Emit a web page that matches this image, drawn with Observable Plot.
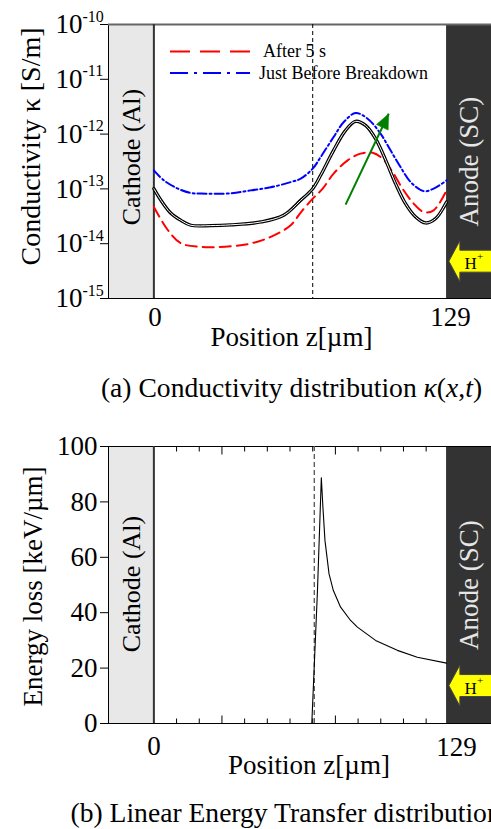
<!DOCTYPE html>
<html><head><meta charset="utf-8">
<script src="https://cdn.jsdelivr.net/npm/d3@7"></script>
<script src="https://cdn.jsdelivr.net/npm/@observablehq/plot@0.6"></script>
<style>
html,body{margin:0;padding:0;background:#fff}
#wrap{position:relative;width:491px;height:829px;overflow:hidden;font-family:"Liberation Serif","Times New Roman",serif}
#wrap svg{display:block}
#legend{position:absolute;left:0;top:0;pointer-events:none}
</style></head><body><div id="wrap"></div>
<script>
// ---------------- data: panel (a) conductivity ----------------
const zInitial = [0, 3.1, 7.5, 11.9, 16.3, 25.1, 33.9, 47.1, 57.2, 64.7, 70.0, 73.5, 79.2, 84.5, 88.9, 93.3, 97.7, 102.2, 106.5, 110.9, 115.4, 119.8, 124.2, 129];
const kInitial = [1.01e-13, 6.2e-14, 3.59e-14, 2.67e-14, 2.17e-14, 2.14e-14, 2.21e-14, 2.49e-14, 3.30e-14, 6.19e-14, 1.01e-13, 1.77e-13, 5.05e-13, 1.17e-12, 1.71e-12, 1.44e-12, 8.24e-13, 3.32e-13, 1.25e-13, 5.39e-14, 3.07e-14, 2.39e-14, 2.87e-14, 5.77e-14];
const zAfter5s = [0, 6.2, 11.9, 20.7, 33.9, 42.7, 51.5, 60.3, 64.7, 70.0, 74.4, 79.2, 85.4, 91.1, 96.4, 100.8, 105.2, 109.6, 114.5, 118.9, 123.3, 129];
const kAfter5s = [4.68e-14, 1.76e-14, 1.02e-14, 8.73e-15, 8.98e-15, 1.01e-14, 1.33e-14, 2.17e-14, 3.7e-14, 6.65e-14, 1.01e-13, 1.90e-13, 3.32e-13, 4.40e-13, 4.58e-13, 3.56e-13, 2.03e-13, 1.01e-13, 5.39e-14, 3.79e-14, 4.07e-14, 9.4e-14];
const zBefore = [0, 4.4, 10.6, 16.3, 20.7, 33.9, 42.7, 51.5, 60.3, 64.7, 70.0, 73.5, 79.2, 83.7, 88.9, 94.2, 99.9, 104.3, 108.7, 113.2, 118.9, 123.3, 129];
const kBefore = [2.18e-13, 1.43e-13, 1.01e-13, 8.4e-14, 8.2e-14, 8.3e-14, 9.4e-14, 1.07e-13, 1.33e-13, 1.54e-13, 2.34e-13, 3.81e-13, 8.83e-13, 1.66e-12, 2.42e-12, 1.91e-12, 1.02e-12, 5.05e-13, 2.51e-13, 1.33e-13, 9.1e-14, 1.01e-13, 1.43e-13];
const yTicksTop = [1e-15, 1e-14, 1e-13, 1e-12, 1e-11, 1e-10];
const yExpTop = ["-15", "-14", "-13", "-12", "-11", "-10"];
const trendFrom = [84.5, 5.16e-14];
const trendTo = [103.5, 2.35e-12];
const trackTop = [70];
const hPlusTop = [129, 4.8e-15];
const seriesNames = ["After 5 s", "Just Before Breakdown"];

// ---------------- shared ----------------
const xTicks = [0, 129];
const regionNames = ["Cathode (Al)", "Anode (SC)"];
const regionStart = [-20, 129];
const regionEnd = [0, 148.8];

// ---------------- data: panel (b) LET ----------------
const zLET = [0, 69.6, 72.1, 73.8, 74.5, 75.4, 77.2, 79.1, 82.3, 86.7, 89.7, 97.7, 107.3, 116.1, 129];
const vLET = [0, 0, 48.0, 88.7, 78.1, 66.1, 54.0, 48.0, 42.0, 37.2, 34.8, 30.0, 26.4, 23.9, 21.8];
const yTicksBottom = [0, 20, 40, 60, 80, 100];
const minorTicks = [10, 20, 40, 50, 60, 70, 90, 100, 110, 120];
const majorTicks = [30, 80];
const trackBottom = [70.7];
const hPlusBottom = [129, 13.7];

// ---------------- helpers ----------------
const FONT = '"Liberation Serif","Times New Roman",serif';
const rows = (zs, vs) => zs.map((z, i) => ({z, v: vs[i]}));
const regions = regionNames.map((name, i) => ({name, start: regionStart[i], end: regionEnd[i]}));
const xDomain = [regionStart[0], regionEnd[1]];
const curve = "catmull-rom";

const hArrowSym = {draw(ctx) {
  ctx.moveTo(0, 0); ctx.lineTo(11, -20.5); ctx.lineTo(11, -11); ctx.lineTo(70, -11);
  ctx.lineTo(70, 11); ctx.lineTo(11, 11); ctx.lineTo(11, 20.5); ctx.closePath();
}};
const headSym = {draw(ctx) {
  const a = 25.4 * Math.PI / 180, ux = Math.sin(a), uy = -Math.cos(a);
  const L = 15, W = 6.5, bx = -L * ux, by = -L * uy, px = -uy, py = ux;
  ctx.moveTo(0, 0); ctx.lineTo(bx + W * px, by + W * py); ctx.lineTo(bx - W * px, by - W * py); ctx.closePath();
}};
const tickSym = len => ({draw(ctx) { ctx.moveTo(0, 0); ctx.lineTo(0, len); }});

const plotStyle = {fontFamily: FONT, fontSize: "27px", color: "black", background: "white"};
const T = {fill: "black", lineAnchor: "middle"};

function regionMarks() {
  return [
    Plot.rect([regions[0]], {x1: "start", x2: "end", fill: "#e8e8e8"}),
    Plot.rect([regions[1]], {x1: "start", x2: "end", fill: "#333333"})
  ];
}
function regionLabels(dyC) {
  return [
    Plot.text([regions[0]], {x: d => (d.start + d.end) / 2, text: "name", rotate: -90, fontSize: 26, fill: "black", dy: dyC}),
    Plot.text([regions[1]], {x: d => (d.start + d.end) / 2, text: "name", rotate: -90, fontSize: 27, fill: "#e6e6e6"})
  ];
}
function hPlusMarks(p) {
  return [
    Plot.dot([p], {x: d => d[0], y: d => d[1], symbol: hArrowSym, fill: "#ffff00", stroke: "#444", strokeWidth: 1, dx: 2.3}),
    Plot.text([p], {x: d => d[0], y: d => d[1], text: () => "H", fontSize: 17, dx: 24, dy: 2.5, fill: "black"}),
    Plot.text([p], {x: d => d[0], y: d => d[1], text: () => "+", fontSize: 11, dx: 33.5, dy: -5, fill: "black"})
  ];
}

// ---------------- panel (a) ----------------
const captionA = "(a) Conductivity distribution κ(x,t)";
const plotA = Plot.plot({
  width: 491, height: 415,
  marginTop: 24, marginBottom: 117, marginLeft: 108, marginRight: 0,
  style: plotStyle,
  x: {domain: xDomain, axis: null},
  y: {type: "log", domain: [yTicksTop[0], yTicksTop[yTicksTop.length - 1]], ticks: yTicksTop,
      tickFormat: () => "10", tickSize: 8, tickPadding: 18, label: null},
  marks: [
    ...regionMarks(),
    Plot.frame({stroke: "black", strokeWidth: 1}),
    Plot.ruleY([yTicksTop[yTicksTop.length - 1]], {stroke: "#666", strokeWidth: 2}),
    Plot.ruleX([regionEnd[0]], {stroke: "#333", strokeWidth: 2}),
    Plot.ruleX(trackTop, {stroke: "black", strokeWidth: 1, strokeDasharray: "4,3"}),
    Plot.line(rows(zAfter5s, kAfter5s), {x: "z", y: "v", stroke: "#ff0000", strokeWidth: 2, strokeDasharray: "11,6", curve}),
    Plot.line(rows(zInitial, kInitial), {x: "z", y: "v", stroke: "black", strokeWidth: 3.3, curve}),
    Plot.line(rows(zInitial, kInitial), {x: "z", y: "v", stroke: "white", strokeWidth: 1, curve}),
    Plot.line(rows(zBefore, kBefore), {x: "z", y: "v", stroke: "#0000ff", strokeWidth: 2, strokeDasharray: "9,3,2,3", curve}),
    Plot.link([[trendFrom, trendTo]], {x1: d => d[0][0], y1: d => d[0][1], x2: d => d[1][0], y2: d => d[1][1], stroke: "#008000", strokeWidth: 2}),
    Plot.dot([trendTo], {x: d => d[0], y: d => d[1], symbol: headSym, fill: "#008000", stroke: "#008000", strokeWidth: 0.5}),
    ...regionLabels(-4.5),
    ...hPlusMarks(hPlusTop),
    Plot.text(yTicksTop, {y: d => d, text: (d, i) => yExpTop[i], frameAnchor: "left", dx: -26, dy: -8, textAnchor: "start", fontSize: 16, ...T}),
    Plot.text([xTicks[0]], {x: d => d, text: d => String(d), frameAnchor: "bottom", dy: 19, dx: 1, fontSize: 27, textAnchor: "middle", ...T}),
    Plot.text([xTicks[1]], {x: d => d, text: d => String(d), frameAnchor: "bottom", dy: 19, dx: 4, fontSize: 27, textAnchor: "middle", ...T}),
    Plot.text(["Position z[µm]"], {text: d => d, frameAnchor: "bottom", dy: 39, dx: -8.5, fontSize: 27, textAnchor: "middle", ...T}),
    Plot.text(["Conductivity κ [S/m]"], {text: d => d, frameAnchor: "left", dx: -77, dy: -15, rotate: -90, fontSize: 28, textAnchor: "middle", ...T}),
    Plot.text([captionA], {text: d => d, frameAnchor: "bottom", dy: 90, dx: -8.5, fontSize: 27.6, textAnchor: "middle", ...T})
  ]
});

// ---------------- panel (b) ----------------
const captionB = "(b) Linear Energy Transfer distribution";
const plotB = Plot.plot({
  width: 491, height: 414,
  marginTop: 31, marginBottom: 106, marginLeft: 108, marginRight: 0,
  style: plotStyle,
  x: {domain: xDomain, axis: null},
  y: {domain: [yTicksBottom[0], yTicksBottom[yTicksBottom.length - 1]], ticks: yTicksBottom,
      tickSize: 8, tickPadding: 3, label: null},
  marks: [
    ...regionMarks(),
    Plot.frame({stroke: "black", strokeWidth: 1}),
    Plot.ruleX([regionEnd[0]], {stroke: "#333", strokeWidth: 2}),
    Plot.dot(minorTicks, {x: d => d, frameAnchor: "top", symbol: tickSym(5), stroke: "black", fill: "none", strokeWidth: 1}),
    Plot.dot(majorTicks, {x: d => d, frameAnchor: "top", symbol: tickSym(8), stroke: "black", fill: "none", strokeWidth: 1}),
    Plot.dot(minorTicks, {x: d => d, frameAnchor: "bottom", symbol: tickSym(-5), stroke: "black", fill: "none", strokeWidth: 1}),
    Plot.dot(majorTicks, {x: d => d, frameAnchor: "bottom", symbol: tickSym(-8), stroke: "black", fill: "none", strokeWidth: 1}),
    Plot.ruleX(trackBottom, {stroke: "#555", strokeWidth: 1.3, strokeDasharray: "5,3"}),
    Plot.line(rows(zLET, vLET), {x: "z", y: "v", stroke: "black", strokeWidth: 1.1}),
    ...regionLabels(-1),
    ...hPlusMarks(hPlusBottom),
    Plot.text([xTicks[0]], {x: d => d, text: d => String(d), frameAnchor: "bottom", dy: 23, dx: 0, fontSize: 27, textAnchor: "middle", ...T}),
    Plot.text([xTicks[1]], {x: d => d, text: d => String(d), frameAnchor: "bottom", dy: 24, dx: 10, fontSize: 27, textAnchor: "middle", ...T}),
    Plot.text(["Position z[µm]"], {text: d => d, frameAnchor: "bottom", dy: 42, dx: 9, fontSize: 27, textAnchor: "middle", ...T}),
    Plot.text(["Energy loss [keV/µm]"], {text: d => d, frameAnchor: "left", dx: -75, dy: 1.5, rotate: -90, fontSize: 27, textAnchor: "middle", ...T}),
    Plot.text([captionB], {text: d => d, frameAnchor: "bottom-left", dy: 90, dx: -38, textAnchor: "start", fontSize: 27.6, ...T})
  ]
});

const wrap = document.getElementById("wrap");
wrap.appendChild(plotA);
wrap.appendChild(plotB);

// italic parts of caption (a)
d3.select(plotA).selectAll("text").filter(function() { return this.textContent === captionA; }).each(function() {
  const t = d3.select(this);
  t.text(null);
  const parts = [["(a) Conductivity distribution ", false], ["κ", true], ["(", false], ["x", true], [",", false], ["t", true], [")", false]];
  for (const [s, it] of parts) t.append("tspan").attr("font-style", it ? "italic" : "normal").text(s);
});

// legend (panel a)
const lg = d3.select(wrap).append("svg").attr("id", "legend").attr("width", 491).attr("height", 100)
  .style("font-family", FONT);
const legendStyles = [
  {color: "#ff0000", dash: "20,10", y: 51.5, tx: 263},
  {color: "#0000ff", dash: "18,6,3,6", y: 73, tx: 259}
];
seriesNames.forEach((name, i) => {
  const s = legendStyles[i];
  lg.append("line").attr("x1", 170).attr("x2", 250).attr("y1", s.y).attr("y2", s.y)
    .attr("stroke", s.color).attr("stroke-width", 2).attr("stroke-dasharray", s.dash);
  lg.append("text").attr("x", s.tx).attr("y", s.y).attr("dy", "0.32em").attr("font-size", 18)
    .attr("fill", "black").text(name);
});
</script></body></html>
